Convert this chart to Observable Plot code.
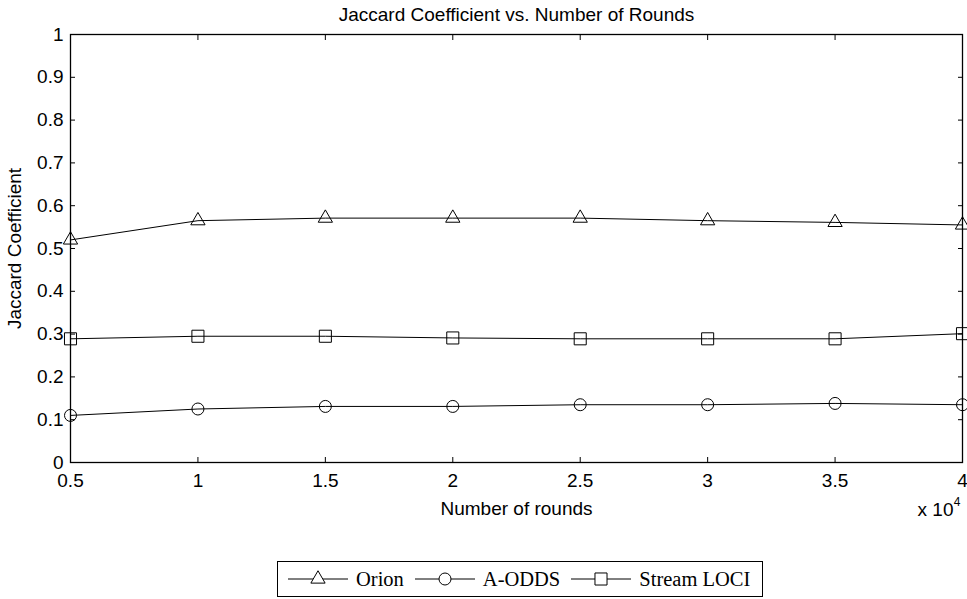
<!DOCTYPE html>
<html>
<head>
<meta charset="utf-8">
<script src="https://cdn.jsdelivr.net/npm/d3@7"></script>
<script src="https://cdn.jsdelivr.net/npm/@observablehq/plot@0.6"></script>
<style>
  html, body { margin: 0; padding: 0; background: white; }
  #wrap { position: relative; width: 967px; height: 599px; overflow: hidden; }
  #legend {
    position: absolute; left: 277px; top: 561px; width: 484px; height: 34px;
    border: 1px solid black; background: white; box-sizing: content-box;
    display: flex; align-items: center;
    font-family: "Liberation Serif", "Times New Roman", serif; font-size: 20.5px; color: black;
  }
  #legend .item { display: flex; align-items: center; }
  #legend svg { display: block; }
</style>
</head>
<body>
<div id="wrap"></div>
<script>
const rounds = [5000, 10000, 15000, 20000, 25000, 30000, 35000, 40000];
const orion  = [0.520, 0.565, 0.571, 0.571, 0.571, 0.565, 0.561, 0.555];
const aodds  = [0.110, 0.125, 0.131, 0.131, 0.135, 0.135, 0.138, 0.135];
const loci   = [0.289, 0.295, 0.295, 0.291, 0.289, 0.289, 0.289, 0.301];
const seriesNames = ["Orion", "A-ODDS", "Stream LOCI"];
const xTicks = [5000, 10000, 15000, 20000, 25000, 30000, 35000, 40000];
const yTicks = [0, 0.1, 0.2, 0.3, 0.4, 0.5, 0.6, 0.7, 0.8, 0.9, 1];

const seriesValues = {"Orion": orion, "A-ODDS": aodds, "Stream LOCI": loci};
const symbols = {"Orion": "triangle", "A-ODDS": "circle", "Stream LOCI": "square"};
const radii = {"Orion": 5.3, "A-ODDS": 6, "Stream LOCI": 6.8};

const data = seriesNames.flatMap(s => rounds.map((r, i) => ({series: s, rounds: r, value: seriesValues[s][i]})));

const font = '"Liberation Sans", Arial, Helvetica, sans-serif';

const chart = Plot.plot({
  width: 967,
  height: 599,
  marginLeft: 70,
  marginRight: 5,
  marginTop: 34,
  marginBottom: 137,
  style: {fontFamily: font, fontSize: "19px", color: "black", background: "white", overflow: "visible"},
  x: {domain: [5000, 40000]},
  y: {domain: [0, 1]},
  marks: [
    Plot.frame({stroke: "black", strokeWidth: 1.3}),
    Plot.axisX({anchor: "bottom", ticks: xTicks, tickSize: -5, tickPadding: 16, tickFormat: d => String(d / 1e4),
      label: "Number of rounds", labelAnchor: "center", labelArrow: "none", labelOffset: 52}),
    Plot.axisX({anchor: "top", ticks: xTicks, tickSize: -5, tickFormat: () => "", label: null}),
    Plot.axisY({anchor: "left", ticks: yTicks, tickSize: -5, tickPadding: 12, tickFormat: d => String(+d.toFixed(1)),
      label: "Jaccard Coefficient", labelAnchor: "center", labelArrow: "none", labelOffset: 63}),
    Plot.axisY({anchor: "right", ticks: yTicks, tickSize: -5, tickFormat: () => "", label: null}),
    Plot.line(data, {x: "rounds", y: "value", z: "series", stroke: "black", strokeWidth: 1}),
    ...seriesNames.map(s => Plot.dot(data.filter(d => d.series === s), {
      x: "rounds", y: "value", symbol: () => symbols[s], r: radii[s], stroke: "black", fill: "none", strokeWidth: 1
    })),
    Plot.text(["Jaccard Coefficient vs. Number of Rounds"], {frameAnchor: "top", dy: -14, lineAnchor: "bottom", fontSize: 19, text: d => d}),
    Plot.text(["x 10"], {frameAnchor: "bottom-right", dx: -9, dy: 53, textAnchor: "end", lineAnchor: "bottom", fontSize: 19, text: d => d}),
    Plot.text(["4"], {frameAnchor: "bottom-right", dx: -2, dy: 43, textAnchor: "end", lineAnchor: "bottom", fontSize: 12, text: d => d})
  ]
});

const wrap = document.getElementById("wrap");
wrap.appendChild(chart);

// Legend
const legend = document.createElement("div");
legend.id = "legend";
const ns = "http://www.w3.org/2000/svg";
seriesNames.forEach((s, i) => {
  const item = document.createElement("div");
  item.className = "item";
  item.style.marginLeft = i === 0 ? "10px" : "11px";
  const svg = document.createElementNS(ns, "svg");
  svg.setAttribute("width", 60);
  svg.setAttribute("height", 20);
  const line = document.createElementNS(ns, "line");
  line.setAttribute("x1", 0); line.setAttribute("x2", 60);
  line.setAttribute("y1", 10); line.setAttribute("y2", 10);
  line.setAttribute("stroke", "black"); line.setAttribute("stroke-width", 1);
  svg.appendChild(line);
  const sym = {"triangle": d3.symbolTriangle, "circle": d3.symbolCircle, "square": d3.symbolSquare}[symbols[s]];
  const path = document.createElementNS(ns, "path");
  path.setAttribute("d", d3.symbol(sym, Math.PI * radii[s] * radii[s])());
  path.setAttribute("transform", "translate(30,10)");
  path.setAttribute("fill", "white"); path.setAttribute("stroke", "black");
  svg.appendChild(path);
  item.appendChild(svg);
  const label = document.createElement("span");
  label.textContent = s;
  label.style.marginLeft = "8px";
  item.appendChild(label);
  legend.appendChild(item);
});
wrap.appendChild(legend);
</script>
</body>
</html>
